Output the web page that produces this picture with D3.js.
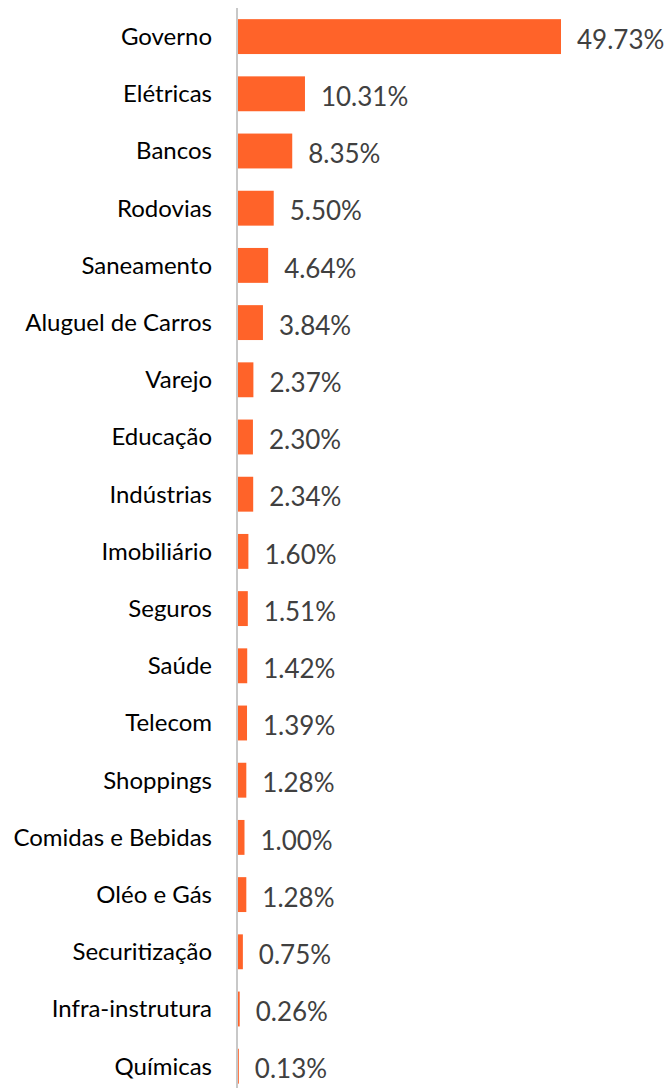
<!DOCTYPE html>
<html>
<head>
<meta charset="utf-8">
<script src="https://cdn.jsdelivr.net/npm/d3@7"></script>
<style>
  body { margin: 0; background: #fff; }
  svg { display: block; }
</style>
</head>
<body>
<div id="chart"></div>
<script>
var categories = ["Governo", "Elétricas", "Bancos", "Rodovias", "Saneamento", "Aluguel de Carros",
    "Varejo", "Educação", "Indústrias", "Imobiliário", "Seguros", "Saúde", "Telecom", "Shoppings",
    "Comidas e Bebidas", "Oléo e Gás", "Securitização", "Infra-instrutura", "Químicas"];
var values = [49.73, 10.31, 8.35, 5.50, 4.64, 3.84, 2.37, 2.30, 2.34, 1.60, 1.51, 1.42, 1.39, 1.28,
    1.00, 1.28, 0.75, 0.26, 0.13];

var width = 667, height = 1088;
var font = "Lato, 'Open Sans', sans-serif";

var data = categories.map(function(c, i){ return {name: c, value: values[i]}; });

var svg = d3.select("#chart").append("svg")
    .attr("width", width)
    .attr("height", height);

var x = d3.scaleLinear().domain([0, 49.73]).range([238, 561]);
var y = d3.scaleBand()
    .domain(categories)
    .range([8, 8 + 19 * 57.2])
    .paddingInner(0.39)
    .paddingOuter(0.195);

// bars
svg.selectAll(".bar")
    .data(data)
    .enter()
    .append("rect")
        .attr("class", "bar")
        .attr("x", x(0))
        .attr("y", function(d){ return y(d.name); })
        .attr("width", function(d){ return x(d.value) - x(0); })
        .attr("height", y.bandwidth())
        .attr("fill", "#ff6329");

// axis line
svg.append("line")
    .attr("x1", x(0) - 1)
    .attr("x2", x(0) - 1)
    .attr("y1", 8)
    .attr("y2", height)
    .style("stroke", "#c8c8c8")
    .style("stroke-width", "2px");

// category labels
svg.selectAll(".cat")
    .data(data)
    .enter()
    .append("text")
        .attr("class", "cat")
        .attr("x", 212)
        .attr("y", function(d){ return y(d.name) + y.bandwidth() / 2; })
        .attr("dy", "0.35em")
        .attr("text-anchor", "end")
        .style("font-family", font)
        .style("font-size", "24px")
        .style("fill", "#000")
        .text(function(d){ return d.name; });

// value labels
svg.selectAll(".val")
    .data(data)
    .enter()
    .append("text")
        .attr("class", "val")
        .attr("x", function(d){ return x(d.value) + 16; })
        .attr("y", function(d){ return y(d.name) + y.bandwidth() / 2 + 3; })
        .attr("dy", "0.35em")
        .style("font-family", font)
        .style("font-size", "26px")
        .style("fill", "#404040")
        .text(function(d){ return d.value.toFixed(2) + "%"; });
</script>
</body>
</html>
